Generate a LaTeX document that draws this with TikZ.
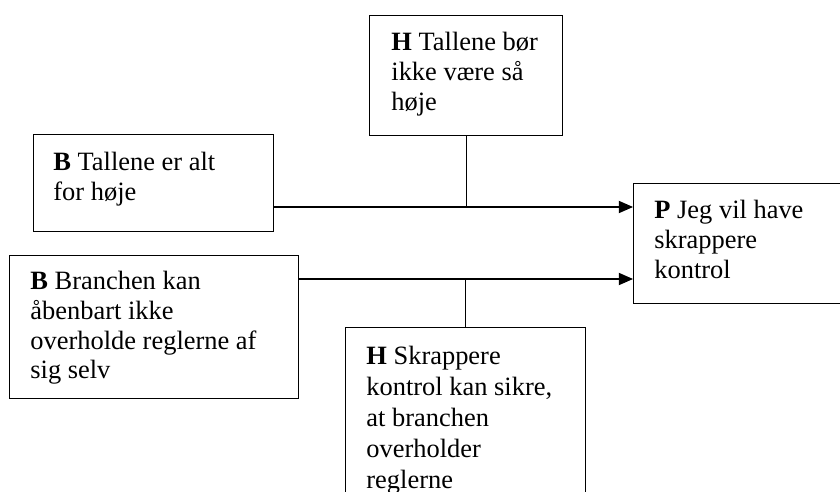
\documentclass[tikz,border=0pt]{standalone}
\usepackage{fontspec}
\setmainfont{Liberation Serif}
\usetikzlibrary{arrows.meta}
\begin{document}
\begin{tikzpicture}[x=0.4917pt,y=-0.4917pt,
  box/.style={draw, line width=0.65pt, inner sep=0pt, anchor=north west},
  txt/.style={anchor=north west, inner sep=0pt, align=left, font=\fontsize{13}{14.6}\selectfont},
  link/.style={line width=0.65pt},
  arr/.style={line width=0.65pt, -{Triangle[length=7pt,width=6pt]}}]
\useasboundingbox (0,0) rectangle (840,491);
\clip (0,0) rectangle (840,491);
% boxes
\node[box, minimum width=94.9pt, minimum height=59.0pt] (htop) at (369,15) {};
\node[box, minimum width=118.0pt, minimum height=47.7pt] (b1) at (33,134) {};
\node[box, minimum width=142.1pt, minimum height=70.3pt] (b2) at (9,255) {};
\node[box, minimum width=104.2pt, minimum height=59.0pt] (p) at (633,183) {};
\node[box, minimum width=118.0pt, minimum height=94.9pt] (hbot) at (345,327) {};
% texts
\node[txt] (thtop) at (391,32) {\textbf{H} Tallene bør\\ikke være så\\høje};
\node[txt] (tb1) at (53,152) {\textbf{B} Tallene er alt\\for høje};
\node[txt] (tb2) at (30,271) {\textbf{B} Branchen kan\\åbenbart ikke\\overholde reglerne af\\sig selv};
\node[txt] (tp) at (654,200) {\textbf{P} Jeg vil have\\skrappere\\kontrol};
\node[txt, font=\fontsize{13}{15.2}\selectfont] (thbot) at (366,346) {\textbf{H} Skrappere\\kontrol kan sikre,\\at branchen\\overholder\\reglerne};
% connectors
\coordinate (j1) at (466,207);
\coordinate (j2) at (466,279);
\draw[link] (htop.south) -- (htop.south |- j1);
\draw[arr] (b1.east |- j1) -- (p.west |- j1);
\draw[link] (hbot.north) -- (hbot.north |- j2);
\draw[arr] (b2.east |- j2) -- (p.west |- j2);
\end{tikzpicture}
\end{document}
